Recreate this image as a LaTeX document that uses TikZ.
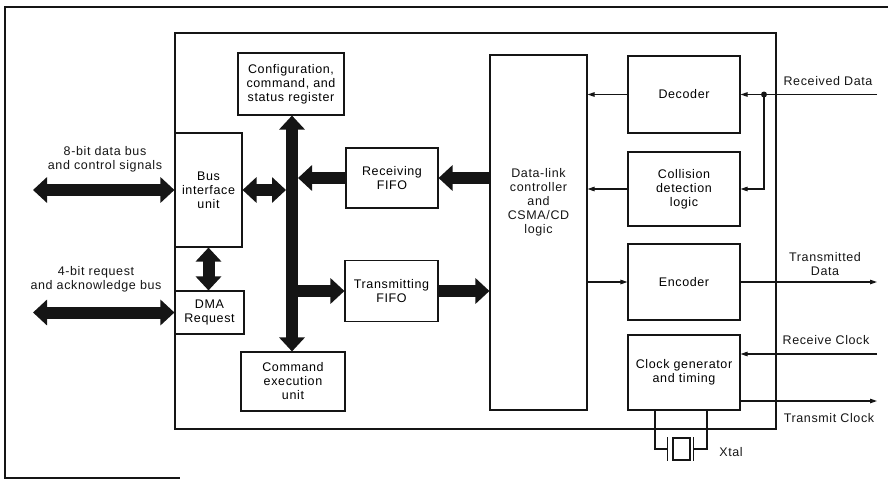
\documentclass[tikz,border=0pt]{standalone}
\usepackage{fontspec}
\setmainfont{Liberation Sans}[LetterSpace=5]
\usepackage{tikz}
\usetikzlibrary{arrows.meta,positioning,calc}
\definecolor{ink}{HTML}{151515}

\begin{document}
\begin{tikzpicture}[
        x=1pt, y=-1pt,
        font=\fontsize{12.5}{14}\selectfont,
        blk/.style={draw=ink, line width=1.1pt, align=center, inner sep=0pt},
        sig/.style={draw=ink, line width=1.1pt, -{Triangle[length=7pt,width=4.5pt]}},
        fat/.style={draw=ink, line width=12pt, -{Triangle[length=14pt,width=25pt]}},
        fatboth/.style={draw=ink, line width=12pt, {Triangle[length=14pt,width=25pt]}-{Triangle[length=14pt,width=25pt]}},
        txt/.style={align=center, inner sep=0pt, text=ink}
    ]
    \useasboundingbox (0,0) rectangle (888,479);

    % frame and chip outline
    \draw[ink, line width=1.1pt] (888,7) -- (5,7) -- (5,478) -- (180,478);
    \draw[ink, line width=1.1pt] (175,33) rectangle (776,429);

    % blocks
    \node[blk, minimum width=106pt, minimum height=62pt] (config) at (291,84)
        {Configuration,\\command, and\\status register};
    \node[blk, minimum width=67pt, minimum height=114pt] (biu) at (208.5,190)
        {Bus\\interface\\unit};
    \node[blk, minimum width=69pt, minimum height=43pt] (dma) at (209.5,312.5)
        {DMA\\Request};
    \node[blk, minimum width=104pt, minimum height=59pt] (cmdexec) at (293,381.5)
        {Command\\execution\\unit};
    \node[blk, minimum width=92pt, minimum height=60pt] (rxfifo) at (392,178)
        {Receiving\\FIFO};
    \node[blk, minimum width=93pt, minimum height=61pt] (txfifo) at (391.5,291)
        {Transmitting\\FIFO};
    \node[blk, minimum width=97pt, minimum height=355pt] (dlc) at (538.5,232.5) {};
    \node[txt] (dlctext) at ([yshift=30pt]dlc.center)
        {Data-link\\controller\\and\\CSMA/CD\\logic};
    \node[blk, minimum width=112pt, minimum height=77pt] (decoder) at (684,94.5)
        {Decoder};
    \node[blk, minimum width=112pt, minimum height=74pt] (collision) at (684,189)
        {Collision\\detection\\logic};
    \node[blk, minimum width=112pt, minimum height=76pt] (encoder) at (684,282)
        {Encoder};
    \node[blk, minimum width=112pt, minimum height=75pt] (clockgen) at (684,372.5)
        {Clock generator\\and timing};

    % crystal
    \node[blk, minimum width=17pt, minimum height=22pt] (xtal) at (681.5,449) {};
    \draw[ink, line width=1.1pt] ([xshift=-5pt]xtal.north west) -- ([xshift=-5pt]xtal.south west);
    \draw[ink, line width=1.1pt] ([xshift=3pt]xtal.north east) -- ([xshift=3pt]xtal.south east);
    \draw[ink, line width=1.1pt] (clockgen.south) ++(-29,0) |- ([xshift=-5pt]xtal.west);
    \draw[ink, line width=1.1pt] (clockgen.south) ++(23,0) |- ([xshift=3pt]xtal.east);
    \node[txt] (xtallabel) at (731,452) {Xtal};

    % outside signals
    \coordinate (databus) at (33,190);
    \coordinate (reqbus) at (33,312.5);
    \coordinate (rxdata) at (877,94.5);
    \coordinate (split) at (764,94.5);
    \coordinate (txdata) at (877,282);
    \coordinate (rxclk) at (877,354);
    \coordinate (txclk) at (877,401);

    \node[txt] (databuslabel) at (105,159) {8-bit data bus\\and control signals};
    \node[txt] (reqbuslabel) at (96,279) {4-bit request\\and acknowledge bus};
    \node[txt] (rxdatalabel) at (828,81) {Received Data};
    \node[txt] (txdatalabel) at (825,264) {Transmitted\\Data};
    \node[txt] (rxclklabel) at (826,340) {Receive Clock};
    \node[txt] (txclklabel) at (829,418) {Transmit Clock};

    % internal bus
    \coordinate (busx) at (292,0);
    \coordinate (busl) at (286,0);
    \coordinate (busr) at (298,0);
    \draw[fatboth] (config.south -| busx) -- (cmdexec.north -| busx);
    \draw[fatboth] (biu.east) -- (biu.east -| busl);
    \draw[fat] (rxfifo.west) -- (rxfifo.west -| busr);
    \draw[fat] (busr |- txfifo.west) -- (txfifo.west);
    \draw[fat] (dlc.west |- rxfifo.east) -- (rxfifo.east);
    \draw[fat] (txfifo.east) -- (txfifo.east -| dlc.west);
    \draw[fatboth] (biu.south) -- (biu.south |- dma.north);
    \draw[fatboth] (databus) -- (biu.west);
    \draw[fatboth] (reqbus) -- (dma.west);

    % serial side
    \draw[sig] (rxdata) -- (decoder.east);
    \fill[ink] (split) circle (3pt);
    \draw[sig] (split) |- (collision.east);
    \draw[sig] (decoder.west) -- (decoder.west -| dlc.east);
    \draw[sig] (collision.west) -- (collision.west -| dlc.east);
    \draw[sig] (dlc.east |- encoder.west) -- (encoder.west);
    \draw[sig] (encoder.east) -- (txdata);
    \draw[sig] (rxclk) -- (rxclk -| clockgen.east);
    \draw[sig] (txclk -| clockgen.east) -- (txclk);
\end{tikzpicture}
\end{document}
